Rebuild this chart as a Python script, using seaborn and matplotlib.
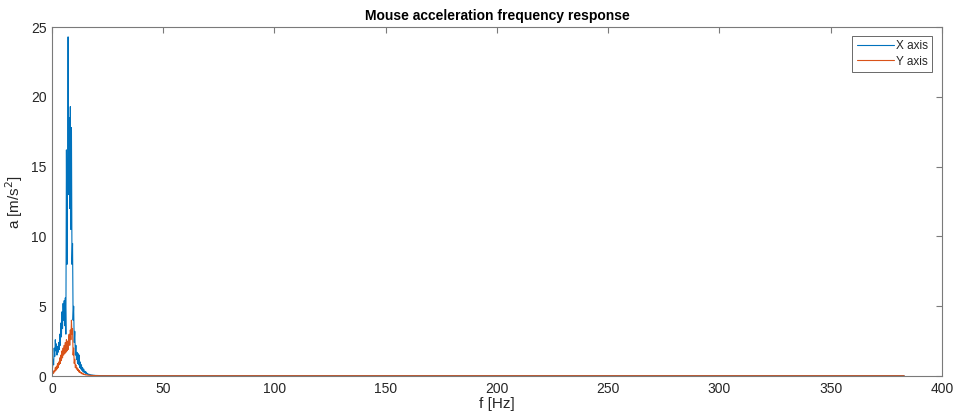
import numpy as np
import pandas as pd
import matplotlib
matplotlib.use("Agg")
import matplotlib.pyplot as plt
import seaborn as sns

# Frequency grid (Hz): fine grid at low frequencies, plus a sparse tail
freq_low = list(np.arange(0, 20, 0.25))
freq_tail = [22.0, 30.0, 383.0]
freqs = freq_low + freq_tail

x_axis_vals = [
    0.2, 0.6, 1.2, 0.8, 2.0, 1.4, 2.6, 1.8, 2.3, 1.5, 2.1, 1.7,
    2.4, 1.9, 3.0, 2.2, 3.8, 2.8, 4.6, 3.4, 5.2, 4.0, 5.4, 3.6,
    5.6, 3.0, 16.2, 8.0, 14.0, 24.3, 13.0, 18.5, 12.0, 19.3, 10.5, 17.8,
    8.0, 9.5, 4.0, 5.0, 2.4, 3.2, 1.5, 2.2, 1.2, 1.7, 0.9, 1.6,
    0.8, 1.5, 0.6, 1.0, 0.5, 0.8, 0.4, 0.6, 0.3, 0.5, 0.25, 0.35,
    0.2, 0.3, 0.15, 0.2, 0.12, 0.15, 0.1, 0.12, 0.08, 0.1, 0.07, 0.08,
    0.06, 0.07, 0.05, 0.06, 0.05, 0.05, 0.04, 0.04,
    0.03, 0.02, 0.02,
]

y_axis_vals = [
    0.05, 0.15, 0.3, 0.2, 0.4, 0.3, 0.6, 0.4, 0.7, 0.5, 0.9, 0.6,
    1.0, 0.8, 1.3, 0.9, 1.5, 1.1, 1.8, 1.3, 2.0, 1.5, 2.2, 1.6,
    2.4, 1.7, 2.6, 1.8, 2.5, 1.9, 2.8, 3.0, 2.2, 3.3, 2.6, 4.0,
    3.0, 3.4, 1.5, 2.0, 0.9, 1.2, 0.6, 0.8, 0.5, 0.6, 0.4, 0.5,
    0.3, 0.4, 0.25, 0.3, 0.2, 0.25, 0.15, 0.2, 0.12, 0.15, 0.1, 0.12,
    0.08, 0.1, 0.07, 0.08, 0.06, 0.07, 0.05, 0.06, 0.05, 0.05, 0.04, 0.04,
    0.04, 0.04, 0.03, 0.03, 0.03, 0.03, 0.03, 0.03,
    0.02, 0.02, 0.02,
]

series_names = ["X axis", "Y axis"]
colors = ["#0072BD", "#D95319"]

df = pd.concat([
    pd.DataFrame({"f": freqs, "a": x_axis_vals, "axis": series_names[0]}),
    pd.DataFrame({"f": freqs, "a": y_axis_vals, "axis": series_names[1]}),
], ignore_index=True)

sns.set_style("white")
plt.rcParams["font.family"] = ["Liberation Sans", "DejaVu Sans"]

fig = plt.figure(figsize=(9.57, 4.17), dpi=100)
ax = fig.add_axes([0.0543, 0.0983, 0.9300, 0.8367])

sns.lineplot(data=df, x="f", y="a", hue="axis", palette=colors,
             estimator=None, sort=False, linewidth=0.8, ax=ax)

ax.set_xlim(0, 400)
ax.set_ylim(0, 25)
ax.set_xticks(range(0, 401, 50))
ax.set_yticks(range(0, 26, 5))

spine_col = "#7a7a7a"
for s in ax.spines.values():
    s.set_visible(True)
    s.set_color(spine_col)
    s.set_linewidth(0.8)
ax.tick_params(direction="in", length=4, width=0.8, color=spine_col,
               top=True, right=True, labelsize=10, labelcolor="#262626", pad=4)

ax.set_title("Mouse acceleration frequency response", fontsize=10,
             fontweight="bold", color="#000000", pad=5)
ax.set_xlabel("f [Hz]", fontsize=11, color="#262626", labelpad=1)
ax.set_ylabel("a [m/s$^2$]", fontsize=11, color="#262626", labelpad=4)

leg = ax.legend(loc="upper right", fontsize=8.5, frameon=True, fancybox=False,
                handlelength=3.2, handletextpad=0.15, borderpad=0.35,
                labelspacing=0.3, bbox_to_anchor=(0.989, 0.975),
                borderaxespad=0.0)
leg.get_frame().set_edgecolor("#262626")
leg.get_frame().set_linewidth(0.6)
leg.set_title(None)

fig.savefig("out.png", dpi=100)
